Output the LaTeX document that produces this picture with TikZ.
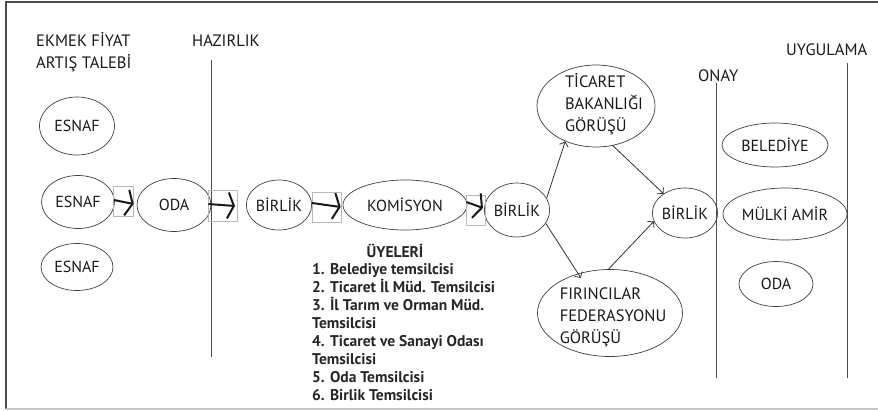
\documentclass[tikz,border=0pt]{standalone}
\usepackage{fontspec}
\setmainfont{PT Sans}
\usetikzlibrary{shapes.geometric,arrows.meta}
\begin{document}
\begin{tikzpicture}[x=1pt,y=-1pt,
  oval/.style={ellipse,draw=black!75,line width=0.7pt,inner sep=0pt,text=black!90,font=\fontsize{16}{19}\selectfont},
  hdr/.style={font=\fontsize{16.5}{22}\selectfont,inner sep=0pt,text=black!90},
  members/.style={inner sep=0pt,font=\bfseries\fontsize{15.5}{17.9}\selectfont,text=black!85},
  lane/.style={draw=black!70,line width=0.9pt},
  fat/.style={line width=2pt,black!90,-{Straight Barb[length=6pt,width=26pt]}},
  selbox/.style={draw=black!28,line width=0.6pt},
  thinarr/.style={draw=black!80,line width=0.8pt,-{Straight Barb[length=4pt,width=9pt]}}
]
\useasboundingbox (0,0) rectangle (878,410);
% frame
\draw[black!70,line width=1.5pt] (878,2) -- (6,2) -- (6,409);
\draw[black!22,line width=1.5pt] (6,409) -- (878,409);

% headers
\node[hdr,align=left,anchor=west] (title) at (36,52) {EKMEK FİYAT\\ARTIŞ TALEBİ};
\node[hdr,anchor=west] (hazirlik) at (192,41) {HAZIRLIK};
\node[hdr,anchor=west] (onay) at (698,76) {ONAY};
\node[hdr,anchor=west] (uygulama) at (786,50) {UYGULAMA};

% lanes
\coordinate (h1) at (211,60); \coordinate (h2) at (211,357);
\coordinate (o1) at (716,83); \coordinate (o2) at (716,378);
\coordinate (u1) at (847,63); \coordinate (u2) at (847,378);
\draw[lane] (h1) -- (h2);
\draw[lane] (o1) -- (o2);
\draw[lane] (u1) -- (u2);

% nodes
\node[oval,minimum width=75pt,minimum height=58pt] (esnafA) at (77,126) {ESNAF};
\node[oval,minimum width=73pt,minimum height=53pt] (esnafB) at (78,202) {ESNAF};
\node[oval,minimum width=72pt,minimum height=47pt] (esnafC) at (77,267) {ESNAF};
\node[oval,minimum width=74pt,minimum height=53pt] (oda) at (174,205) {ODA};
\node[oval,minimum width=62pt,minimum height=50pt] (birlikA) at (279,205) {BİRLİK};
\node[oval,minimum width=124pt,minimum height=50pt] (komisyon) at (405,205) {KOMİSYON};
\node[oval,minimum width=62pt,minimum height=54pt] (birlikB) at (517,210) {BİRLİK};
\node[oval,minimum width=118pt,minimum height=82pt] (ticaret) at (596,106) {};
\node[hdr,align=left] (tictext) at (604,104) {TİCARET\\BAKANLIĞI\\GÖRÜŞÜ};
\node[oval,minimum width=60pt,minimum height=50pt] (birlikC) at (685,213) {BİRLİK};
\node[oval,minimum width=145pt,minimum height=87pt] (fir) at (610,313) {};
\node[hdr,align=left] (firtext) at (613,317) {FIRINCILAR\\FEDERASYONU\\GÖRÜŞÜ};
\node[oval,minimum width=106pt,minimum height=44pt] (belediye) at (775,145) {BELEDİYE};
\node[oval,minimum width=124pt,minimum height=52pt] (mulki) at (785,214) {MÜLKİ AMİR};
\node[oval,minimum width=74pt,minimum height=45pt] (odaB) at (776,284) {ODA};

% members
\node[members] (uyeler) at (395,251) {ÜYELERİ};
\node[members,anchor=north west,align=left] (liste) at (312,263.5)
  {1. Belediye temsilcisi\\2. Ticaret İl Müd. Temsilcisi\\3. İl Tarım ve Orman Müd.\\Temsilcisi\\4. Ticaret ve Sanayi Odası\\Temsilcisi\\5. Oda Temsilcisi\\6. Birlik Temsilcisi};

% selection boxes around arrow heads
\draw[selbox] (113,186) rectangle (133,216);
\draw[selbox] (208,190) rectangle (237,221);
\draw[selbox] (312,192) rectangle (341,222);
\draw[selbox] (466,195) rectangle (485,225);

% thick arrows
\draw[fat] ([xshift=-1pt,yshift=2pt]esnafB.east) -- ([xshift=-3pt]oda.west |- 0,204);
\draw[fat] ([xshift=-3pt,yshift=1pt]oda.east) -- ([xshift=-11pt]birlikA.west |- 0,206);
\draw[fat] ([yshift=2pt]birlikA.east) -- ([xshift=-2pt]komisyon.west |- 0,207);
\draw[fat] ([xshift=-1pt,yshift=3pt]komisyon.east) -- ([xshift=-1pt]birlikB.west |- 0,208);

% thin arrows
\draw[thinarr] (birlikB.22) -- (ticaret.229);
\draw[thinarr] (ticaret.293) -- (birlikC.138);
\draw[thinarr] (birlikB.335) -- ([yshift=-5pt]fir.126);
\draw[thinarr] (fir.92) -- (birlikC.195);
\end{tikzpicture}
\end{document}
